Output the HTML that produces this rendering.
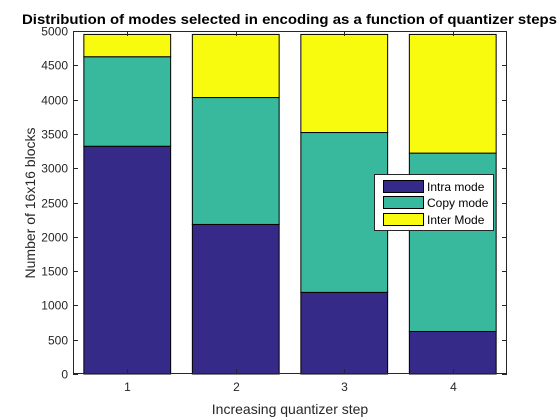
<!DOCTYPE html>
<html><head><meta charset="utf-8"><style>
body{margin:0;background:#fff;}
svg{display:block;font-family:"Liberation Sans",Arial,sans-serif;}
</style></head><body>
<svg id="chart" width="560" height="420">
<rect width="560" height="420" fill="#fff"/>
<text x="22" y="24" font-size="13.5" font-weight="bold" textLength="535" lengthAdjust="spacingAndGlyphs">Distribution of modes selected in encoding as a function of quantizer steps</text>
<g id="plot"></g>
<text x="290" y="414" font-size="14" text-anchor="middle" fill="#262626">Increasing quantizer step</text>
<text transform="translate(35,203) rotate(-90)" font-size="14" text-anchor="middle" fill="#262626">Number of 16x16 blocks</text>
<g>
<rect x="374.5" y="174.5" width="119" height="56" fill="#fff" stroke="#262626" stroke-width="1"/>
<g><rect x="383.5" y="180.5" width="40" height="12" fill="#352a87" stroke="#000"/><text x="427" y="191" font-size="12" fill="#000">Intra mode</text></g>
<g><rect x="383.5" y="196.5" width="40" height="12" fill="#38b99e" stroke="#000"/><text x="427" y="207" font-size="12" fill="#000">Copy mode</text></g>
<g><rect x="383.5" y="213.5" width="40" height="12" fill="#f9fb0e" stroke="#000"/><text x="427" y="224" font-size="12" fill="#000">Inter Mode</text></g>
</g>
</svg>
<script>
const categories = ["1","2","3","4"];
const intraValues = [3320, 2180, 1190, 620];
const copyValues = [1305, 1850, 2330, 2600];
const interValues = [325, 920, 1430, 1730];
const yTicks = [0,500,1000,1500,2000,2500,3000,3500,4000,4500,5000];

const NS="http://www.w3.org/2000/svg";
const L=73,R=507,T=31,B=374,YMAX=5000;
const xScale=i=>L+(i+0.5)*(R-L)/categories.length;
const yScale=v=>B-v/YMAX*(B-T);
const bw=0.8*(R-L)/categories.length;
const plot=document.getElementById('plot');
function mk(tag,attrs){const e=document.createElementNS(NS,tag);for(const k in attrs)e.setAttribute(k,attrs[k]);plot.appendChild(e);return e;}

const series=[{vals:intraValues,color:"#352a87",name:"intra"},{vals:copyValues,color:"#38b99e",name:"copy"},{vals:interValues,color:"#f9fb0e",name:"inter"}];
categories.forEach((c,i)=>{
  let base=0;
  series.forEach(s=>{
    const v=s.vals[i];
    const y1=yScale(base+v),y0=yScale(base);
    const r=mk('rect',{x:xScale(i)-bw/2,y:y1,width:bw,height:y0-y1,fill:s.color,stroke:"#000","stroke-width":1});
    
    
    base+=v;
  });
});
const box=mk('rect',{x:L+0.5,y:T+0.5,width:R-L-1,height:B-T-1,fill:"none",stroke:"#262626","stroke-width":1});


yTicks.forEach(t=>{
  const y=Math.round(yScale(t))+0.5;
  mk('line',{x1:L,x2:L+5,y1:y,y2:y,stroke:"#262626"});
  mk('line',{x1:R-5,x2:R,y1:y,y2:y,stroke:"#262626"});
  const tx=mk('text',{x:L-5,y:y+4,"font-size":12,"text-anchor":"end",fill:"#262626"});
  tx.textContent=t;
  
  
});
categories.forEach((c,i)=>{
  const x=Math.round(xScale(i))+0.5;
  mk('line',{x1:x,x2:x,y1:B,y2:B-5,stroke:"#262626"});
  mk('line',{x1:x,x2:x,y1:T,y2:T+5,stroke:"#262626"});
  const tx=mk('text',{x:x,y:B+17,"font-size":12,"text-anchor":"middle",fill:"#262626"});
  tx.textContent=c;
  
  
});
</script>
</body></html>
